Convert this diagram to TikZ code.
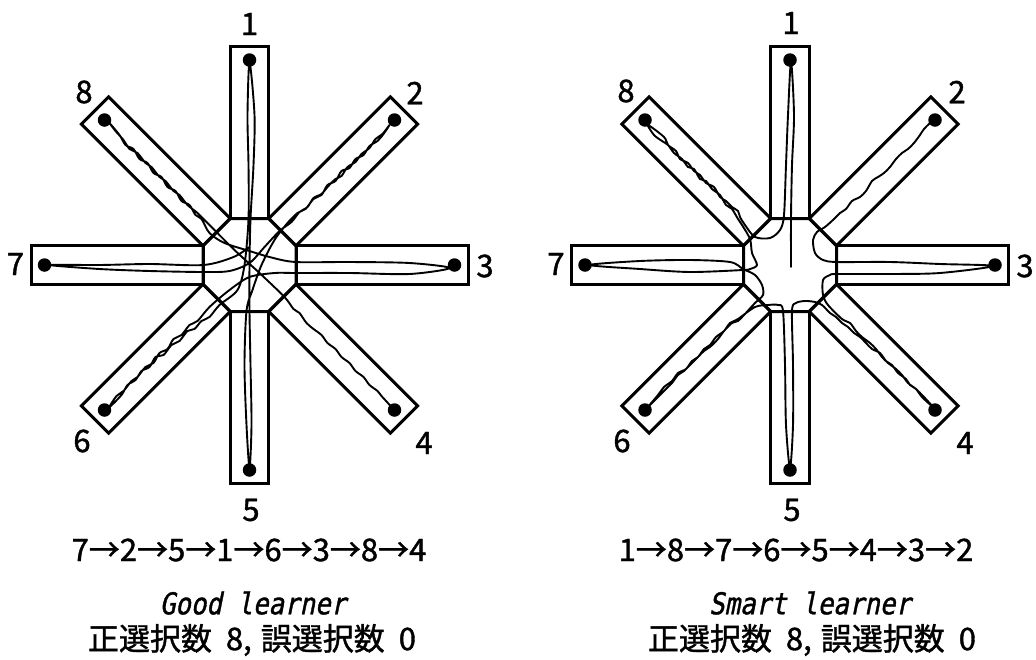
\documentclass[tikz,border=0pt]{standalone}
\usepackage{fontspec}
\newfontfamily\jp[FakeBold=1.2]{Noto Sans CJK JP}
\newfontfamily\monof[FakeSlant=0.2,FakeStretch=0.86,FakeBold=1.2]{DejaVu Sans Mono}
\tikzset{
  wall/.style={line width=3pt, line join=miter},
  trace/.style={line width=1.9pt, line join=round, line cap=round},
  goal/.style={circle, fill=black, inner sep=0pt, minimum size=13.5pt},
  armlbl/.style={font=\jp\fontsize{31}{36}\selectfont, inner sep=0pt},
  seqlbl/.style={font=\jp\fontsize{31}{36}\selectfont, inner sep=0pt},
  namelbl/.style={font=\monof\fontsize{30}{36}\selectfont, inner sep=0pt},
  countlbl/.style={font=\jp\fontsize{31}{36}\selectfont, inner sep=0pt},
}
\newcommand\drawmaze[1]{%
  \foreach \a in {0,45,...,315}{\draw[wall, rotate=\a] (46.5,-19.26) rectangle (218.5,19.26);}
  \draw[wall] (22.5:50.33) -- (67.5:50.33) -- (112.5:50.33) -- (157.5:50.33) -- (202.5:50.33) -- (247.5:50.33) -- (292.5:50.33) -- (337.5:50.33) -- cycle;
  \node[goal] (#1d1) at (0,-205) {};
  \node[goal] (#1d2) at (145,-145) {};
  \node[goal] (#1d3) at (205,0) {};
  \node[goal] (#1d4) at (145,145) {};
  \node[goal] (#1d5) at (0,205) {};
  \node[goal] (#1d6) at (-145,145) {};
  \node[goal] (#1d7) at (-205,0) {};
  \node[goal] (#1d8) at (-145,-145) {};
}
\begin{document}
\begin{tikzpicture}[x=1pt,y=-1pt]
\useasboundingbox (0,0) rectangle (1036,659);

% ---------- left maze: Good learner ----------
\begin{scope}[shift={(249.5,265)}]
\drawmaze{L}
\draw[trace] plot[smooth, tension=0.5] coordinates {
 (0,-18) (-16,-8) (-46,0) (-100,-1) (-150,0) (-200,0)
 (-150,4) (-100,6) (-46,7) (-20,6) (0,-2) (15,-18) (30,-34)
 (42,-43) (50,-53) (58,-58) (64,-67) (72,-71) (78,-78) (86,-86) (92,-89) (98,-98) (106,-103) (112,-111) (120,-117) (126,-126) (133,-131) (140,-140)
 (134,-131) (128,-124) (120,-119) (114,-110) (106,-106) (100,-97) (92,-94) (86,-84) (78,-80) (72,-70) (64,-66) (56,-56) (48,-52) (38,-42)
 (25,-25) (12,0) (3,25) (-3,46) (-5,100) (-3,160) (0,203)
 (2,160) (1,100) (0,46) (0,0) (1,-46) (4,-100) (5,-150) (0,-203)
 (-2,-150) (-1,-100) (-1,-46) (-5,0) (-12,25) (-30,40)
 (-40,52) (-48,56) (-55,64) (-62,66) (-70,76) (-78,80) (-86,90) (-94,92) (-100,102) (-108,106) (-114,115) (-122,120) (-128,130) (-140,142)
 (-133,131) (-126,126) (-118,116) (-112,112) (-104,102) (-96,98) (-90,88) (-82,84) (-76,74) (-68,70) (-60,60) (-52,56) (-40,42)
 (-20,25) (0,12) (25,8) (46,8) (100,8) (160,9) (200,3)
 (160,-2) (100,-3) (46,-3) (20,-8) (0,-14) (-25,-22) (-40,-32)
 (-48,-46) (-54,-50) (-60,-60) (-68,-64) (-74,-74) (-82,-78) (-88,-88) (-96,-92) (-102,-102) (-110,-106) (-116,-116) (-124,-120) (-130,-130) (-140,-142)
 (-134,-134) (-126,-125) (-120,-116) (-112,-112) (-104,-102) (-98,-98) (-90,-88) (-84,-84) (-76,-74) (-70,-70) (-62,-60) (-52,-52) (-42,-42)
 (-15,-15) (10,8) (35,32) (44,44) (50,48) (57,58) (64,64) (72,70) (78,78) (86,84) (92,92) (100,98) (106,106) (114,112) (120,120) (128,126) (132,131) (143,143)
};
\end{scope}

% ---------- right maze: Smart learner ----------
\begin{scope}[shift={(790,265)}]
\drawmaze{R}
\draw[trace] plot[smooth, tension=0.5] coordinates {
 (1,2) (1,-47) (2,-100) (4,-150) (1,-203)
 (-2,-150) (-4,-100) (-6,-50) (-10,-35) (-20,-27) (-35,-28)
 (-45,-40) (-50,-48) (-52,-54) (-58,-58) (-64,-64) (-70,-68) (-76,-78) (-84,-82) (-90,-90) (-96,-94) (-102,-102) (-110,-106) (-114,-114) (-122,-120) (-126,-128) (-142,-140)
 (-136,-130) (-128,-124) (-122,-120) (-116,-112) (-108,-106) (-102,-98) (-96,-96) (-90,-86) (-84,-84) (-78,-76) (-70,-70) (-64,-60) (-58,-56) (-52,-46) (-48,-40)
 (-40,-26) (-38,-12) (-33,0) (-40,4) (-47,5)
 (-100,7) (-150,4) (-200,0)
 (-150,-4) (-100,-5) (-60,-3) (-47,4) (-35,10) (-28,20) (-27,30) (-35,38)
 (-46,50) (-52,56) (-58,58) (-66,66) (-72,74) (-80,82) (-86,86) (-94,94) (-100,100) (-106,106) (-112,110) (-118,118) (-124,124) (-130,130) (-142,142)
 (-132,130) (-126,122) (-118,116) (-112,108) (-104,104) (-98,96) (-92,92) (-86,84) (-80,80) (-74,72) (-66,66) (-60,58) (-52,54) (-35,42)
 (-22,40) (-12,40) (-7,46) (-5,100) (-4,160) (0,203)
 (3,160) (3,100) (2,46) (6,38) (15,36) (25,37) (32,40)
 (40,48) (46,52) (52,58) (58,62) (64,68) (70,72) (76,78) (82,84) (90,88) (96,96) (102,100) (108,108) (116,114) (120,120) (126,124) (132,132) (143,142)
 (134,132) (126,124) (118,118) (112,110) (106,104) (98,98) (92,92) (86,84) (80,78) (72,72) (66,66) (60,58) (52,54) (38,40)
 (33,30) (33,15) (40,10) (47,9) (100,9) (150,8) (203,1)
 (150,-1) (100,-3) (47,-3) (33,-5) (25,-12) (23,-25) (27,-33) (35,-38)
 (44,-46) (50,-52) (56,-56) (62,-64) (70,-68) (76,-74) (82,-84) (88,-88) (94,-92) (100,-98) (106,-106) (112,-112) (118,-116) (124,-122) (130,-130) (134,-136) (142,-144)
};
\end{scope}

% ---------- arm numbers ----------
\node[armlbl] (L1) at (249.5,24) {1};
\node[armlbl] (L2) at (415,93) {2};
\node[armlbl] (L3) at (485,266) {3};
\node[armlbl] (L4) at (424,443) {4};
\node[armlbl] (L5) at (251,510) {5};
\node[armlbl] (L6) at (82,441) {6};
\node[armlbl] (L7) at (15.5,264) {7};
\node[armlbl] (L8) at (84,92) {8};

\node[armlbl] (R1) at (791,23) {1};
\node[armlbl] (R2) at (957,92) {2};
\node[armlbl] (R3) at (1025,266) {3};
\node[armlbl] (R4) at (965,443) {4};
\node[armlbl] (R5) at (792,510) {5};
\node[armlbl] (R6) at (622,441) {6};
\node[armlbl] (R7) at (556,264) {7};
\node[armlbl] (R8) at (626,91) {8};

% ---------- captions ----------
\node[seqlbl] (Lseq) at (249,550) {7→2→5→1→6→3→8→4};
\node[seqlbl] (Rseq) at (796,550) {1→8→7→6→5→4→3→2};
\node[namelbl] (Lname) at (253,603) {Good learner};
\node[namelbl] (Rname) at (810,603) {Smart learner};
\node[countlbl] (Lcount) at (252,640) {正選択数\hspace{14pt}8,\hspace{9pt}誤選択数\hspace{14pt}0};
\node[countlbl] (Rcount) at (812,640) {正選択数\hspace{14pt}8,\hspace{9pt}誤選択数\hspace{14pt}0};
\end{tikzpicture}
\end{document}
